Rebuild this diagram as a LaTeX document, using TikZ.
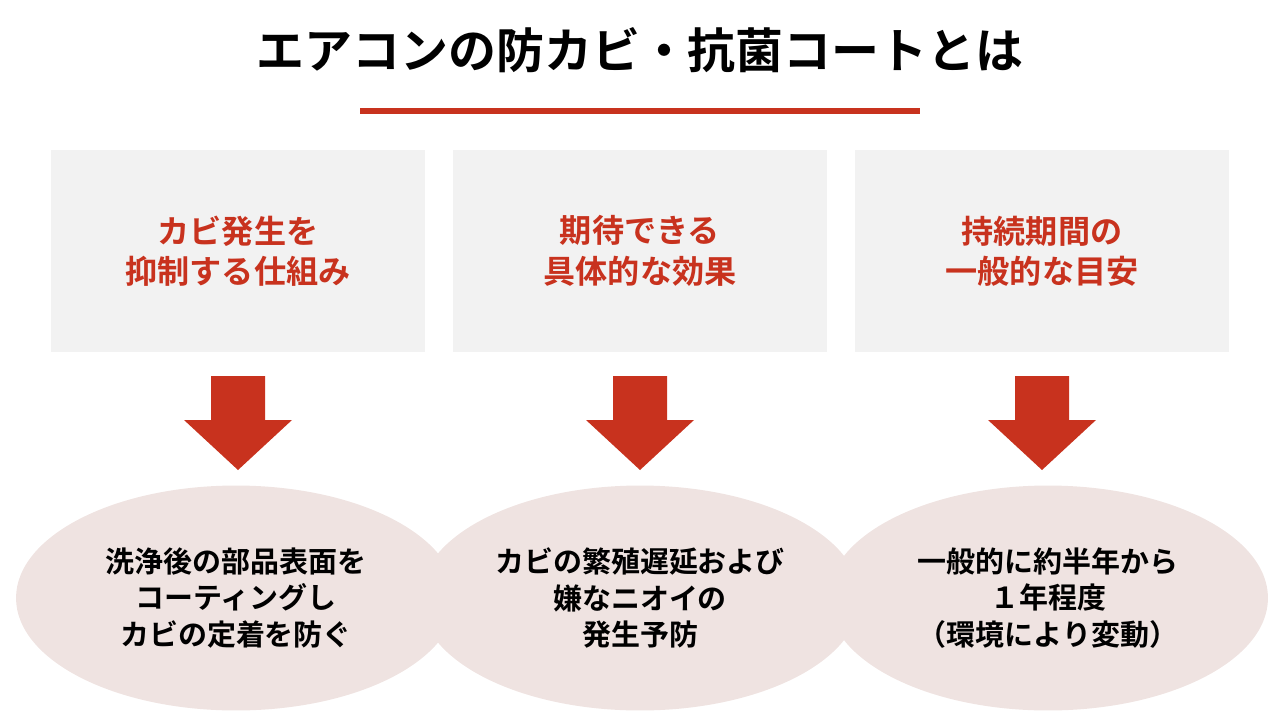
\documentclass[tikz,border=0pt]{standalone}
\usepackage{fontspec}
\setmainfont{Noto Sans CJK JP}[BoldFont={* Bold}]
\definecolor{accent}{HTML}{C8321E}
\definecolor{boxgray}{HTML}{F2F2F2}
\definecolor{pinkish}{HTML}{EFE3E1}
\usetikzlibrary{shapes.geometric}
\tikzstyle{topic}=[fill=boxgray,minimum width=7.48cm,minimum height=4.06cm,
  text=accent,font=\bfseries\fontsize{18.3}{23}\selectfont,align=center]
\tikzstyle{result}=[ellipse,fill=pinkish,minimum width=8.8cm,minimum height=4.5cm,
  font=\bfseries\fontsize{16.5}{21}\selectfont,align=center]
\tikzstyle{downarrow}=[fill=accent]

\begin{document}
\begin{tikzpicture}[x=0.02cm,y=-0.02cm]
  \useasboundingbox (0,0) rectangle (1280,720);
  \node[font=\bfseries\fontsize{27.3}{30}\selectfont] (title) at (640,50)
    {エアコンの防カビ・抗菌コートとは};
  \draw[accent,line width=0.12cm] (360,111) coordinate (ul) -- (920,111) coordinate (ur);

  \node[result] (r1) at (236,598) {洗浄後の部品表面を\\コーティングし\\カビの定着を防ぐ};
  \node[result] (r2) at (640,598) {カビの繁殖遅延および\\嫌なニオイの\\発生予防};
  \node[result] (r3) at (1048,598) {一般的に約半年から\\１年程度\\（環境により変動）};

  \node[topic] (t1) at (238,251) {カビ発生を\\抑制する仕組み};
  \node[topic] (t2) at (640,251) {期待できる\\具体的な効果};
  \node[topic] (t3) at (1042,251) {持続期間の\\一般的な目安};

  \foreach \c/\n in {238/1,640/2,1042/3}
    \fill[downarrow] (\c-27,376) -- (\c+27,376) -- (\c+27,420) -- (\c+54,420)
      -- (\c,470) -- (\c-54,420) -- (\c-27,420) -- cycle;
\end{tikzpicture}
\end{document}
